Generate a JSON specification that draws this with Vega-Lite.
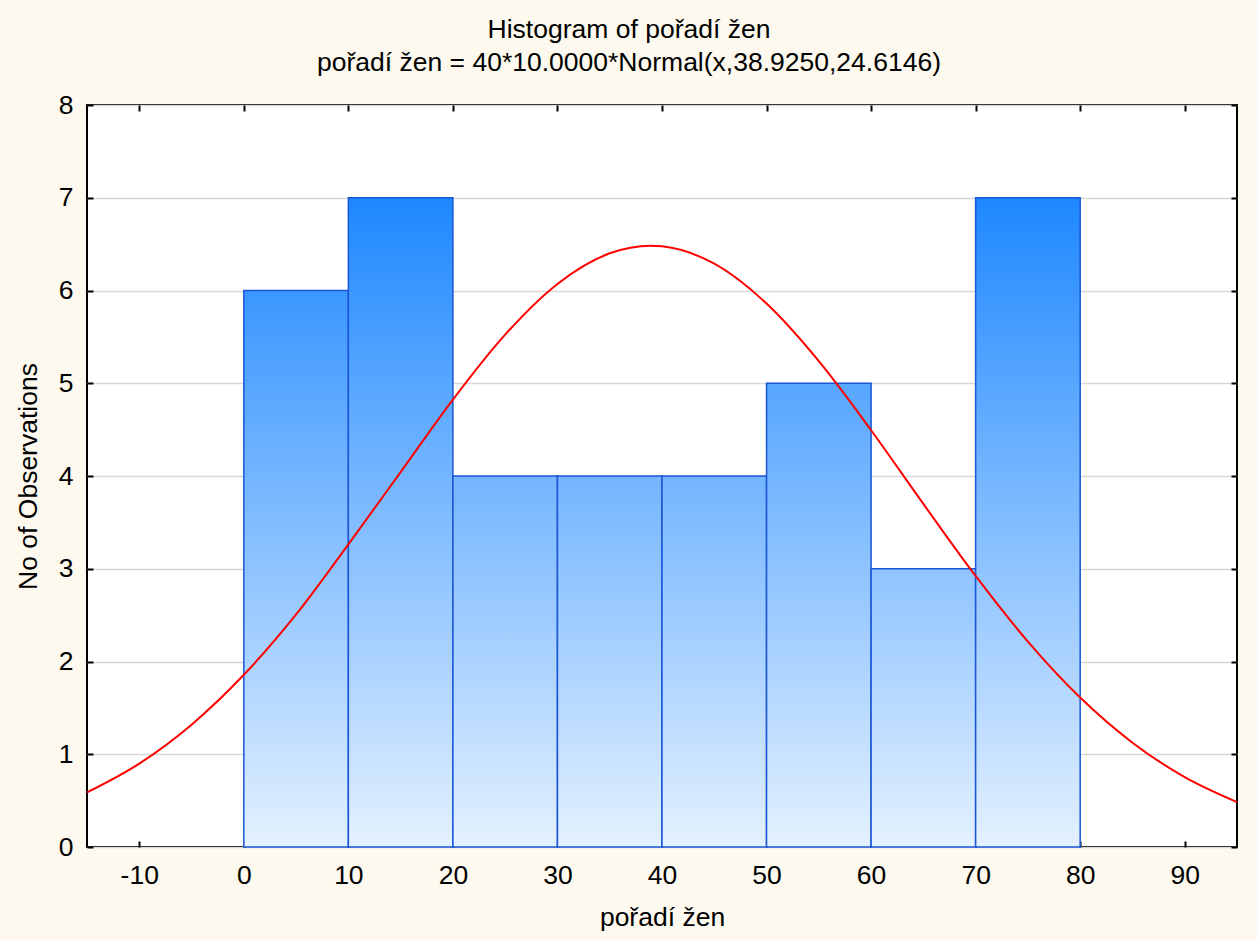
{
  "$schema": "https://vega.github.io/schema/vega-lite/v6.json",
  "autosize": "none",
  "width": 1150,
  "height": 742,
  "padding": {"left": 87, "top": 105, "right": 20, "bottom": 93},
  "background": "#fdf9ee",
  "config": {
    "view": {"stroke": "#000000", "strokeWidth": 2, "fill": "#ffffff"},
    "font": "Liberation Sans",
    "axis": {
      "domain": false,
      "tickColor": "#000000",
      "tickWidth": 2,
      "tickSize": -6,
      "labelFont": "Liberation Sans",
      "labelFontSize": 26.5,
      "labelColor": "#000000",
      "titleFont": "Liberation Sans",
      "titleFontSize": 26.5,
      "titleFontWeight": "normal",
      "titleColor": "#000000"
    }
  },
  "title": {
    "text": ["Histogram of pořadí žen", "pořadí žen = 40*10.0000*Normal(x,38.9250,24.6146)"],
    "font": "Liberation Sans",
    "fontSize": 26.5,
    "fontWeight": "normal",
    "color": "#000000",
    "lineHeight": 33,
    "anchor": "middle",
    "offset": 16,
    "dx": -33
  },
  "datasets": {
    "bars": [
      {"bin_start": 0, "bin_end": 10, "count": 6},
      {"bin_start": 10, "bin_end": 20, "count": 7},
      {"bin_start": 20, "bin_end": 30, "count": 4},
      {"bin_start": 30, "bin_end": 40, "count": 4},
      {"bin_start": 40, "bin_end": 50, "count": 4},
      {"bin_start": 50, "bin_end": 60, "count": 5},
      {"bin_start": 60, "bin_end": 70, "count": 3},
      {"bin_start": 70, "bin_end": 80, "count": 7}
    ],
    "curve": [
      {"x": -15, "y": 0.5883},
      {"x": -10, "y": 0.8992},
      {"x": -5, "y": 1.3191},
      {"x": 0, "y": 1.8567},
      {"x": 5, "y": 2.5078},
      {"x": 10, "y": 3.2631},
      {"x": 15, "y": 4.0424},
      {"x": 20, "y": 4.8241},
      {"x": 25, "y": 5.5243},
      {"x": 30, "y": 6.0706},
      {"x": 35, "y": 6.4011},
      {"x": 38.925, "y": 6.4830},
      {"x": 40, "y": 6.4768},
      {"x": 45, "y": 6.2885},
      {"x": 50, "y": 5.8589},
      {"x": 55, "y": 5.2379},
      {"x": 60, "y": 4.4935},
      {"x": 65, "y": 3.6992},
      {"x": 70, "y": 2.9221},
      {"x": 75, "y": 2.2148},
      {"x": 80, "y": 1.6110},
      {"x": 85, "y": 1.1244},
      {"x": 90, "y": 0.7531},
      {"x": 95, "y": 0.4840}
    ]
  },
  "resolve": {"axis": {"x": "independent", "y": "independent"}},
  "layer": [
    {
      "data": {"name": "bars"},
      "mark": {"type": "rect", "stroke": "#1a56d6", "strokeWidth": 1.5},
      "encoding": {
        "x": {
          "field": "bin_start", "type": "quantitative",
          "scale": {"domain": [-15, 95], "nice": false, "zero": false},
          "axis": {
            "orient": "bottom",
            "values": [-10, 0, 10, 20, 30, 40, 50, 60, 70, 80, 90],
            "labelExpr": "replace(datum.label, '−', '-')",
            "grid": false,
            "labelPadding": 21,
            "title": "pořadí žen",
            "titlePadding": 16
          }
        },
        "x2": {"field": "bin_end"},
        "y": {
          "field": "count", "type": "quantitative",
          "scale": {"domain": [0, 8], "nice": false},
          "axis": {
            "orient": "left",
            "values": [0, 1, 2, 3, 4, 5, 6, 7, 8],
            "grid": true,
            "gridColor": "#d8d8d8",
            "gridWidth": 1.5,
            "labelPadding": 20,
            "title": "No of Observations",
            "titlePadding": 16
          }
        },
        "y2": {"datum": 0},
        "fill": {
          "condition": [
            {"test": "datum.count == 6", "value": {"gradient": "linear", "x1": 0, "y1": -0.16667, "x2": 0, "y2": 1, "stops": [{"offset": 0, "color": "#1e88ff"}, {"offset": 1, "color": "#e4f1ff"}]}},
            {"test": "datum.count == 5", "value": {"gradient": "linear", "x1": 0, "y1": -0.4, "x2": 0, "y2": 1, "stops": [{"offset": 0, "color": "#1e88ff"}, {"offset": 1, "color": "#e4f1ff"}]}},
            {"test": "datum.count == 4", "value": {"gradient": "linear", "x1": 0, "y1": -0.75, "x2": 0, "y2": 1, "stops": [{"offset": 0, "color": "#1e88ff"}, {"offset": 1, "color": "#e4f1ff"}]}},
            {"test": "datum.count == 3", "value": {"gradient": "linear", "x1": 0, "y1": -1.33333, "x2": 0, "y2": 1, "stops": [{"offset": 0, "color": "#1e88ff"}, {"offset": 1, "color": "#e4f1ff"}]}}
          ],
          "value": {"gradient": "linear", "x1": 0, "y1": 0, "x2": 0, "y2": 1, "stops": [{"offset": 0, "color": "#1e88ff"}, {"offset": 1, "color": "#e4f1ff"}]}
        }
      }
    },
    {
      "data": {"name": "curve"},
      "mark": {"type": "line", "color": "#ff0000", "strokeWidth": 2, "interpolate": "monotone"},
      "encoding": {
        "x": {
          "field": "x", "type": "quantitative",
          "scale": {"domain": [-15, 95], "nice": false, "zero": false},
          "axis": {
            "orient": "top",
            "values": [-10, 0, 10, 20, 30, 40, 50, 60, 70, 80, 90],
            "labels": false,
            "grid": false,
            "title": null
          }
        },
        "y": {
          "field": "y", "type": "quantitative",
          "scale": {"domain": [0, 8], "nice": false},
          "axis": {
            "orient": "right",
            "values": [0, 1, 2, 3, 4, 5, 6, 7, 8],
            "labels": false,
            "grid": false,
            "title": null
          }
        }
      }
    }
  ]
}
